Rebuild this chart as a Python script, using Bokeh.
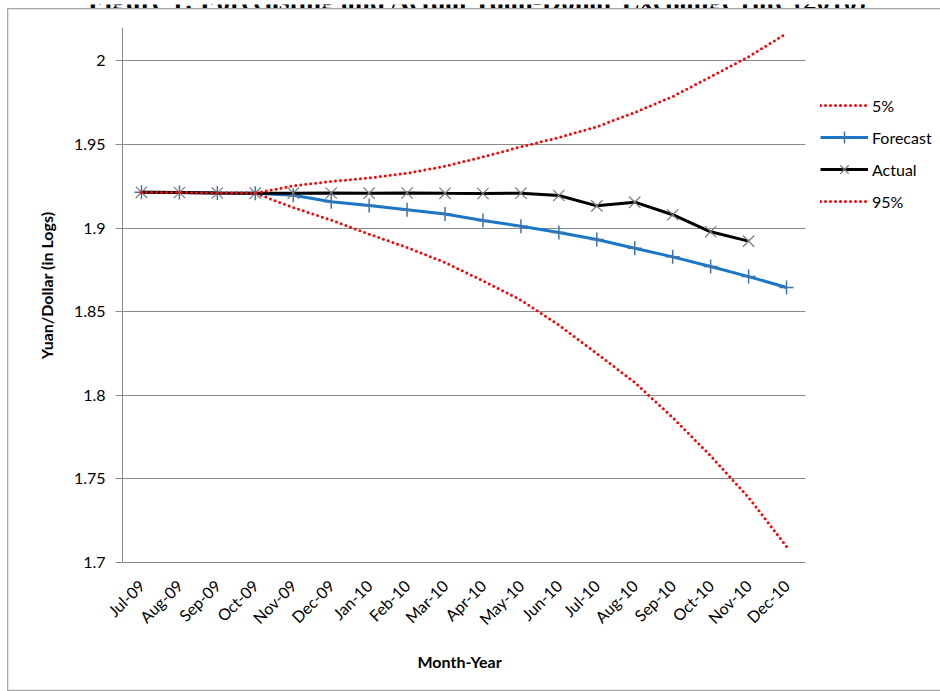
from bokeh.plotting import figure
from bokeh.layouts import column
from bokeh.models import Range1d, FixedTicker, Legend, LegendItem, Label, Title, Plot
from bokeh.embed import file_html
from bokeh.resources import INLINE
from math import pi

# Monthly yuan/dollar exchange rate, natural log
months = ["Jul-09", "Aug-09", "Sep-09", "Oct-09", "Nov-09", "Dec-09", "Jan-10", "Feb-10",
          "Mar-10", "Apr-10", "May-10", "Jun-10", "Jul-10", "Aug-10", "Sep-10", "Oct-10",
          "Nov-10", "Dec-10"]

band_5 = [1.9214, 1.9213, 1.9210, 1.9209, 1.9123, 1.9048, 1.8964, 1.8884, 1.8794,
          1.8685, 1.8569, 1.8420, 1.8250, 1.8077, 1.7867, 1.7638, 1.7389, 1.7096]

forecast = [1.9214, 1.9213, 1.9210, 1.9209, 1.9196, 1.9158, 1.9135, 1.9110, 1.9084,
            1.9046, 1.9011, 1.8974, 1.8932, 1.8880, 1.8828, 1.8770, 1.8710, 1.8645]

actual = [1.9214, 1.9213, 1.9210, 1.9209, 1.9209, 1.9210, 1.9209, 1.9210, 1.9208,
          1.9207, 1.9209, 1.9195, 1.9133, 1.9155, 1.9080, 1.8978, 1.8922]

band_95 = [1.9214, 1.9213, 1.9210, 1.9209, 1.9253, 1.9279, 1.9300, 1.9328, 1.9370,
           1.9426, 1.9486, 1.9542, 1.9606, 1.9691, 1.9787, 1.9905, 2.0025, 2.0164]

y_ticks = [1.7, 1.75, 1.8, 1.85, 1.9, 1.95, 2.0]
y_tick_labels = ["1.7", "1.75", "1.8", "1.85", "1.9", "1.95", "2"]

title_text = "Figure 1: Forecasting and Actual Yuan-Dollar Exchange rate (2010)"

# month positions on the category axis
x_pos = list(range(len(months)))
x_pos_actual = x_pos[:len(actual)]

FONT = "Lato"
GRID = "#8a8a8a"
RED = "#ff0000"
BLUE = "#1a76c6"
DOTS = "0 5"
EDGE = "#a6a6a6"

# The caption goes in its own thin strip above the chart when plot frames
# in a layout can be left unaligned; otherwise it is drawn inside the chart.
USE_STRIP = "frame_align" in Plot.properties()
STRIP = 8 if USE_STRIP else 0

# plot area spans the 18 months and the value band 1.70 .. 2.0198;
# the frame itself runs to the right and top edges so the legend sits inside it
X_SPAN = (-0.5, len(months) - 0.5)
Y_SPAN = (1.7, 2.0198)
PX_PER_MONTH = 37.944
PX_PER_UNIT = 1672.0
H = 691 - STRIP

p = figure(width=940, height=H,
           x_range=Range1d(-0.5, -0.5 + 818 / PX_PER_MONTH),
           y_range=Range1d(1.7, 1.7 + (562 - STRIP) / PX_PER_UNIT),
           output_backend="svg", toolbar_location=None, title=None,
           min_border_left=122, min_border_right=0,
           min_border_top=0, min_border_bottom=129)

p.background_fill_alpha = 0
p.border_fill_alpha = 0
p.outline_line_color = None

# chart-area frame, painted behind the transparent canvas
top_edge = max(7 - STRIP, 0)
p.styles = {
    "background-color": "white",
    "box-shadow": (f"inset 7px 0 0 0 white, inset 0 {top_edge}px 0 0 white, "
                   f"inset 8.3px 0 0 0 {EDGE}, inset 0 {top_edge + 1.3}px 0 0 {EDGE}, "
                   f"inset 0 -1.3px 0 0 {EDGE}"),
}

# y axis
p.yaxis.ticker = FixedTicker(ticks=y_ticks)
p.yaxis.major_label_overrides = {t: s for t, s in zip(y_ticks, y_tick_labels)}
p.yaxis.bounds = Y_SPAN
p.yaxis.minor_tick_line_color = None
p.yaxis.major_tick_in = 0
p.yaxis.major_tick_out = 7
p.yaxis.major_tick_line_color = GRID
p.yaxis.axis_line_color = GRID
p.yaxis.major_label_standoff = 10
p.yaxis.axis_label = "Yuan/Dollar (in Logs)"
p.yaxis.axis_label_standoff = 15

# x axis
p.xaxis.ticker = FixedTicker(ticks=x_pos)
p.xaxis.major_label_overrides = {i: m for i, m in zip(x_pos, months)}
p.xaxis.bounds = X_SPAN
p.xaxis.major_tick_line_color = None
p.xaxis.minor_tick_line_color = None
p.xaxis.axis_line_color = GRID
p.xaxis.major_label_orientation = pi / 4
p.xaxis.major_label_standoff = 14

for ax in (p.xaxis, p.yaxis):
    ax.major_label_text_font = FONT
    ax.major_label_text_font_size = "16px"
    ax.major_label_text_color = "black"
    ax.axis_label_text_font = FONT
    ax.axis_label_text_font_size = "16px"
    ax.axis_label_text_font_style = "bold"
    ax.axis_label_text_color = "black"

# x axis title, centred under the month span rather than the whole frame
p.add_layout(Title(text="Month-Year", align="left", offset=295, vertical_align="top",
                   standoff=28, text_font=FONT, text_font_size="16px",
                   text_font_style="bold", text_color="black"), "below")

# horizontal gridlines limited to the plot area
p.xgrid.visible = False
ygrid = p.ygrid[0]
ygrid.ticker = FixedTicker(ticks=y_ticks)
if "cross_bounds" in ygrid.properties():
    ygrid.cross_bounds = X_SPAN
    ygrid.grid_line_color = GRID
    ygrid.grid_line_width = 1
else:
    ygrid.visible = False
    p.segment(x0=[X_SPAN[0]] * len(y_ticks), x1=[X_SPAN[1]] * len(y_ticks),
              y0=y_ticks, y1=y_ticks, line_color=GRID, line_width=1)

# series, in drawing order
r5 = p.line(x_pos, band_5, line_color=RED, line_width=3, line_dash=DOTS,
            line_cap="round")

rf = p.line(x_pos, forecast, line_color=BLUE, line_width=3)
rfm = p.scatter(x_pos, forecast, marker="cross", size=14, line_color="#3f74ad",
                line_width=1.5)

ra = p.line(x_pos_actual, actual, line_color="black", line_width=3)
ram = p.scatter(x_pos_actual, actual, marker="x", size=16, line_color="#7a7a7a",
                line_width=1.2)

r95 = p.line(x_pos, band_95, line_color=RED, line_width=3, line_dash=DOTS,
             line_cap="round")

legend = Legend(items=[
    LegendItem(label="5%", renderers=[r5]),
    LegendItem(label="Forecast", renderers=[rf, rfm]),
    LegendItem(label="Actual", renderers=[ra, ram]),
    LegendItem(label="95%", renderers=[r95]),
], location=(698, 346))
legend.margin = 0
legend.padding = 0
legend.border_line_color = None
legend.background_fill_alpha = 0
legend.glyph_width = 48
legend.glyph_height = 30
legend.label_height = 30
legend.spacing = 2
legend.label_standoff = 4
legend.label_text_font = FONT
legend.label_text_font_size = "16px"
legend.label_text_color = "black"
p.add_layout(legend)

caption_style = dict(text=title_text, x_units="screen", y_units="screen",
                     text_align="center", text_baseline="alphabetic",
                     text_font="Liberation Serif", text_font_style="bold",
                     text_font_size="27px", text_color="black")

if USE_STRIP:
    # thin strip holding the lower part of the caption
    head = figure(width=940, height=STRIP, x_range=Range1d(0, 940),
                  y_range=Range1d(0, STRIP), output_backend="svg",
                  toolbar_location=None, title=None, x_axis_type=None,
                  y_axis_type=None, min_border_left=0, min_border_right=0,
                  min_border_top=0, min_border_bottom=0)
    head.grid.visible = False
    head.outline_line_color = None
    head.background_fill_color = "white"
    head.border_fill_color = "white"
    head.frame_align = False
    p.frame_align = False
    head.add_layout(Label(x=478, y=12, **caption_style))
    page = column(head, p, spacing=0)
else:
    # caption, running off the top edge of the page
    p.add_layout(Label(x=356, y=566, **caption_style))
    page = p

open("out.html", "w").write(file_html(page, INLINE))
